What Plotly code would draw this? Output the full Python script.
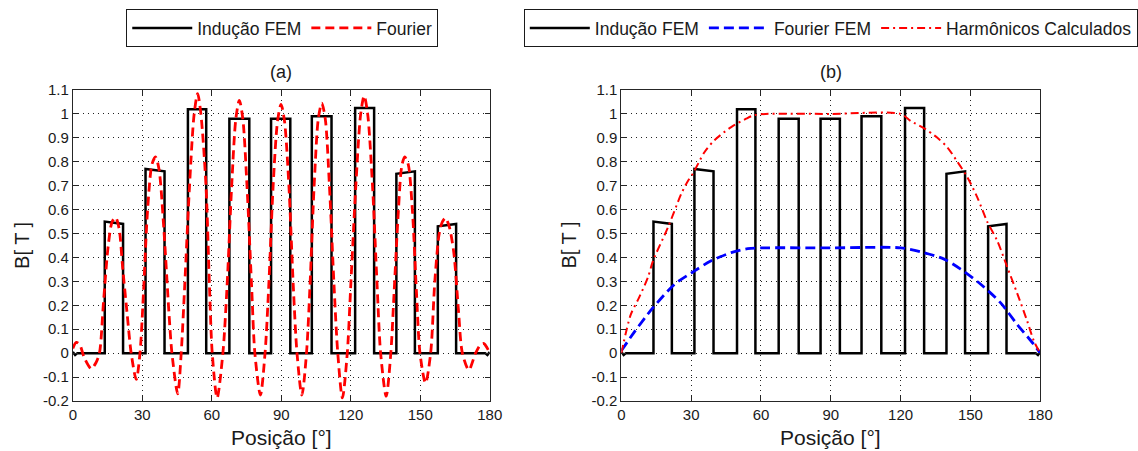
import plotly.graph_objects as go

# ---------------- data ----------------
# FEM induction (square pulses), positions in degrees, heights in T
pulse_rise = [13.8, 31.4, 49.7, 67.6, 85.6, 103.2, 121.9, 139.7, 157.6]
pulse_fall = [21.7, 39.6, 57.6, 76.2, 93.9, 111.7, 130.1, 147.7, 165.5]
pulse_top_start = [0.55, 0.77, 1.02, 0.98, 0.98, 0.99, 1.025, 0.75, 0.53]
pulse_top_end = [0.54, 0.76, 1.02, 0.98, 0.98, 0.99, 1.025, 0.76, 0.54]
fem_start_x = [0.0, 1.0, 2.0]
fem_start_y = [0.005, -0.008, 0.0]
fem_end_x = [178.0, 179.0, 180.0]
fem_end_y = [0.0, -0.008, 0.005]

# Fourier reconstruction (panel a)
fourier_x = [0, 1.5, 3.0, 5.0, 8.0, 10.0, 11.5,
             13.3, 15.3, 17.0, 18.5, 20.0, 21.5, 23.5, 25.2, 27.4,
             29.0, 30.5, 32.3, 34.2, 35.7, 37.2, 39.3, 41.5, 42.8, 45.3,
             46.8, 48.3, 50.4, 52.4, 53.9, 55.3, 57.5, 59.0, 60.2, 62.3,
             64.8, 66.6, 68.6, 70.4, 71.9, 73.4, 75.2, 77.2, 78.6, 81.0,
             83.0, 84.6, 86.5, 88.4, 89.9, 91.4, 93.3, 95.2, 96.8, 98.9,
             100.9, 102.4, 104.2, 106.0, 107.5, 109.0, 110.8, 112.8, 114.4, 116.4,
             118.5, 120.0, 122.2, 124.3, 125.8, 127.3, 129.4, 131.4, 132.9, 135.3,
             137.3, 138.7, 140.6, 142.0, 143.3, 144.8, 146.6, 148.4, 149.9, 152.3,
             154.5, 156.3, 158.2, 159.6, 160.9, 162.5, 164.5, 166.5, 168.2, 171.0,
             173.9, 176.0, 177.5, 179.0, 180.0]
fourier_y = [0.02, 0.045, 0.035, -0.02, -0.065, -0.04, 0.0,
             0.22, 0.45, 0.55, 0.567, 0.52, 0.36, 0.16, 0.0, -0.11,
             0.0, 0.25, 0.6, 0.79, 0.82, 0.77, 0.52, 0.17, 0.0, -0.17,
             0.0, 0.28, 0.70, 1.0, 1.085, 1.0, 0.70, 0.28, 0.0, -0.187,
             0.0, 0.28, 0.70, 0.98, 1.057, 0.98, 0.70, 0.28, 0.0, -0.175,
             0.0, 0.28, 0.70, 0.97, 1.04, 0.97, 0.70, 0.28, 0.0, -0.175,
             0.0, 0.28, 0.70, 0.98, 1.045, 0.98, 0.70, 0.28, 0.0, -0.187,
             0.0, 0.28, 0.70, 1.0, 1.075, 1.0, 0.70, 0.28, 0.0, -0.18,
             0.0, 0.25, 0.6, 0.78, 0.82, 0.79, 0.6, 0.25, 0.0, -0.125,
             0.0, 0.3, 0.50, 0.55, 0.565, 0.53, 0.42, 0.18, 0.0, -0.07,
             0.0, 0.035, 0.04, 0.02, 0.0]

# Fourier FEM fundamental (panel b)
fourier_fem_x = [0, 5.7, 13.6, 22.9, 31.5, 38.6, 47.2, 54.3, 60.0, 90.0, 120.1,
                 130.1, 138.7, 145.8, 154.4, 162.9, 170.1, 177.3, 180.0]
fourier_fem_y = [0.01, 0.09, 0.19, 0.288, 0.344, 0.386, 0.42, 0.437, 0.44, 0.44, 0.44,
                 0.42, 0.393, 0.351, 0.288, 0.211, 0.12, 0.036, 0.0]

# Calculated harmonics (panel b)
harm_x = [0, 4.0, 7.5, 11.4, 13.6, 20.0, 25.7, 28.6, 30.7, 35.7, 40.0, 47.2, 53.6, 57.1,
          62.0, 90.0, 120.0, 124.4, 130.1, 135.8, 140.1, 144.4, 148.7, 153.0, 157.2,
          161.5, 165.8, 170.1, 174.4, 177.3, 180.0]
harm_y = [0.0, 0.16, 0.23, 0.316, 0.386, 0.525, 0.665, 0.72, 0.75, 0.84, 0.89, 0.945, 0.98,
          0.995, 1.0, 1.0, 1.0, 0.97, 0.94, 0.90, 0.86, 0.80, 0.735, 0.65, 0.55,
          0.47, 0.36, 0.25, 0.134, 0.05, 0.0]

x_ticks = [0, 30, 60, 90, 120, 150, 180]
y_ticks = [-0.2, -0.1, 0, 0.1, 0.2, 0.3, 0.4, 0.5, 0.6, 0.7, 0.8, 0.9, 1, 1.1]
y_ticktext = ["-0.2", "-0.1", "0", "0.1", "0.2", "0.3", "0.4", "0.5", "0.6", "0.7",
              "0.8", "0.9", "1", "1.1"]

# ---------------- build FEM step series ----------------
fem_x = list(fem_start_x)
fem_y = list(fem_start_y)
for r, f, h1, h2 in zip(pulse_rise, pulse_fall, pulse_top_start, pulse_top_end):
    fem_x += [r, r, f, f]
    fem_y += [0.0, h1, h2, 0.0]
fem_x += fem_end_x
fem_y += fem_end_y

W, H = 1138, 451
FONT = "Liberation Sans, Arial, sans-serif"

fig = go.Figure()
fig.add_trace(go.Scatter(x=fem_x, y=fem_y, mode="lines", name="Indução FEM",
                         line=dict(color="black", width=2.5),
                         xaxis="x", yaxis="y", legend="legend"))
fig.add_trace(go.Scatter(x=fourier_x, y=fourier_y, mode="lines", name="Fourier",
                         line=dict(color="#ff0000", width=2.8, dash="9px,5px",
                                   shape="spline", smoothing=0.8),
                         xaxis="x", yaxis="y", legend="legend"))

fig.add_trace(go.Scatter(x=fem_x, y=fem_y, mode="lines", name="Indução FEM",
                         line=dict(color="black", width=2.5),
                         xaxis="x2", yaxis="y2", legend="legend2"))
fig.add_trace(go.Scatter(x=fourier_fem_x, y=fourier_fem_y, mode="lines", name="Fourier FEM",
                         line=dict(color="#0000ff", width=2.8, dash="10px,5px",
                                   shape="spline", smoothing=0.8),
                         xaxis="x2", yaxis="y2", legend="legend2"))
fig.add_trace(go.Scatter(x=harm_x, y=harm_y, mode="lines", name="Harmônicos Calculados",
                         line=dict(color="#ff0000", width=2, dash="8px,4px,2px,4px",
                                   shape="spline", smoothing=0.8),
                         xaxis="x2", yaxis="y2", legend="legend2"))

def xax(domain, anchor):
    return dict(domain=domain, anchor=anchor, range=[0, 180], tickvals=x_ticks,
                ticks="inside", ticklen=5, tickcolor="#262626",
                showline=True, linecolor="#262626", linewidth=1, mirror="ticks",
                showgrid=True, gridcolor="#222222", griddash="1px,4px", gridwidth=1,
                zeroline=False, automargin=False,
                tickfont=dict(size=15, color="#1a1a1a", family=FONT))

def yax(domain, anchor):
    return dict(domain=domain, anchor=anchor, range=[-0.2, 1.1], tickvals=y_ticks,
                ticktext=y_ticktext,
                ticks="inside", ticklen=5, tickcolor="#262626",
                showline=True, linecolor="#262626", linewidth=1, mirror="ticks",
                showgrid=True, gridcolor="#222222", griddash="1px,4px", gridwidth=1,
                zeroline=False, automargin=False,
                tickfont=dict(size=15, color="#1a1a1a", family=FONT))

ydom = [1 - 401 / H, 1 - 90 / H]
fig.update_layout(
    width=W, height=H,
    margin=dict(l=0, r=0, t=0, b=0),
    paper_bgcolor="white", plot_bgcolor="white",
    font=dict(family=FONT, color="#1a1a1a"),
    xaxis=xax([73 / W, 491 / W], "y"),
    yaxis=yax(ydom, "x"),
    xaxis2=xax([623 / W, 1043 / W], "y2"),
    yaxis2=yax(ydom, "x2"),
    legend=dict(orientation="h", x=283 / W, xanchor="center", y=1 - 9 / H, yanchor="top",
                bordercolor="#1a1a1a", borderwidth=1, bgcolor="white",
                font=dict(size=17.5, family=FONT), itemwidth=60),
    legend2=dict(orientation="h", x=833 / W, xanchor="center", y=1 - 9 / H, yanchor="top",
                 bordercolor="#1a1a1a", borderwidth=1, bgcolor="white",
                 font=dict(size=17.5, family=FONT), itemwidth=60),
    showlegend=True,
)

annots = [
    dict(text="(a)", x=282 / W, y=1 - 72 / H, font=dict(size=18)),
    dict(text="(b)", x=833 / W, y=1 - 72 / H, font=dict(size=18)),
    dict(text="B[ T ]", x=22 / W, y=1 - 245 / H, textangle=-90, font=dict(size=20)),
    dict(text="B[ T ]", x=571 / W, y=1 - 245 / H, textangle=-90, font=dict(size=20)),
    dict(text="Posição [°]", x=282 / W, y=1 - 437 / H, font=dict(size=21)),
    dict(text="Posição [°]", x=833 / W, y=1 - 437 / H, font=dict(size=21)),
]
for a in annots:
    fig.add_annotation(xref="paper", yref="paper", showarrow=False,
                       xanchor="center", yanchor="middle",
                       font_family=FONT, font_color="#1a1a1a", **{k: v for k, v in a.items()})

fig.write_html("out.html")
